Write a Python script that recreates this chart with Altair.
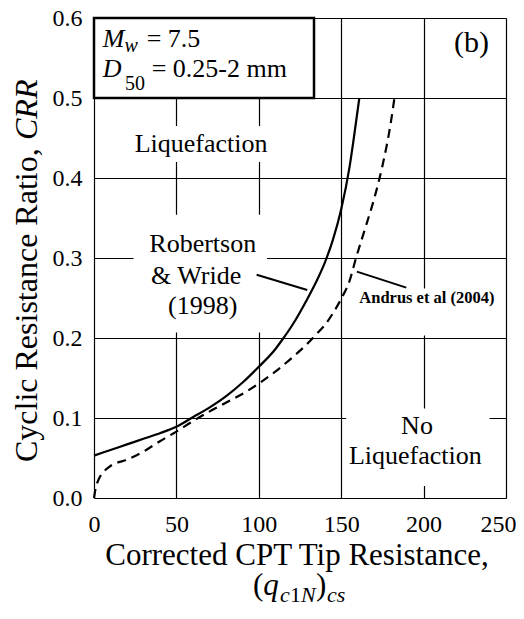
import altair as alt
import pandas as pd

SERIF = "Liberation Serif"

# Robertson & Wride (1998) curve (solid)
rw_q = [0, 10, 20, 30, 40, 50, 60, 70, 80, 90, 100, 110, 115, 120, 130, 135, 140, 145, 150, 155, 158, 161]
rw_crr = [0.053, 0.060, 0.067, 0.074, 0.081, 0.089, 0.101, 0.113, 0.127, 0.144, 0.164, 0.186, 0.200,
          0.215, 0.251, 0.271, 0.294, 0.323, 0.361, 0.413, 0.455, 0.500]

# Andrus et al (2004) curve (dashed)
an_q = [0, 1, 3, 6, 10, 20, 30, 40, 50, 60, 70, 80, 90, 100, 110, 120, 130, 135, 140, 145, 150, 155,
        159, 165, 170, 175, 180, 182.3]
an_crr = [0.0, 0.012, 0.024, 0.033, 0.040, 0.048, 0.058, 0.071, 0.083, 0.096, 0.108, 0.119, 0.130,
          0.143, 0.158, 0.175, 0.194, 0.205, 0.216, 0.231, 0.249, 0.271, 0.300, 0.340, 0.374, 0.415,
          0.468, 0.500]

x_ticks = [0, 50, 100, 150, 200, 250]
y_ticks = [0.0, 0.1, 0.2, 0.3, 0.4, 0.5, 0.6]

# annotation texts (data coordinates)
ann_text = ["Liquefaction", "Robertson", "& Wride", "(1998)", "No", "Liquefaction", "(b)"]
ann_q = [65, 66, 62, 66, 196, 195, 229]
ann_crr = [0.443, 0.317, 0.277, 0.240, 0.0895, 0.052, 0.569]
ann_size = [26, 26, 26, 26, 26, 26, 30]

andrus_label = ["Andrus et al (2004)"]
andrus_q = [202]
andrus_crr = [0.250]

# white masks behind labels (data coordinates)
mask_q1 = [22, 24, 153, 160]
mask_q2 = [107, 105, 240, 248]
mask_c1 = [0.42, 0.207, 0.015, 0.203]
mask_c2 = [0.465, 0.354, 0.112, 0.262]

# leader lines
lead_q1 = [98.7, 159.5]
lead_q2 = [129.4, 189.5]
lead_c1 = [0.279, 0.283]
lead_c2 = [0.260, 0.263]

# parameter box
box_q = [0]
box_q2 = [133.5]
box_c = [0.5]
box_c2 = [0.6]

xs = alt.Scale(domain=[0, 250], nice=False, zero=False)
ys = alt.Scale(domain=[0, 0.6], nice=False, zero=False)

rw = pd.DataFrame({"q": rw_q, "crr": rw_crr})
an = pd.DataFrame({"q": an_q, "crr": an_crr})

xax = alt.Axis(values=x_ticks, title=None, grid=True, ticks=False, tickSize=0, domain=False,
               labelFont=SERIF, labelFontSize=24, labelColor="black", labelPadding=14,
               labelFlush=False, labelOverlap=False, gridColor="black", gridWidth=1.2,
               labelAlign={"condition": {"test": "datum.value == 250", "value": "right"}, "value": "center"},
               labelOffset={"condition": {"test": "datum.value == 250", "value": 10}, "value": 0})
yax = alt.Axis(values=y_ticks, title=None, grid=True, ticks=False, tickSize=0, domain=False, format=".1f",
               labelFont=SERIF, labelFontSize=24, labelColor="black", labelPadding=12,
               labelFlush=False, labelOverlap=False, gridColor="black", gridWidth=1.2)

base_solid = alt.Chart(rw).mark_line(color="black", strokeWidth=2.2, interpolate="monotone").encode(
    x=alt.X("q:Q", scale=xs, axis=xax),
    y=alt.Y("crr:Q", scale=ys, axis=yax),
)
dashed = alt.Chart(an).mark_line(color="black", strokeWidth=2.2, strokeDash=[9, 6],
                                 interpolate="monotone").encode(
    x=alt.X("q:Q", scale=xs), y=alt.Y("crr:Q", scale=ys)
)

masks = alt.Chart(pd.DataFrame({"a": mask_q1, "b": mask_q2, "c": mask_c1, "d": mask_c2})).mark_rect(
    color="white").encode(
    x=alt.X("a:Q", scale=xs), x2="b:Q", y=alt.Y("c:Q", scale=ys), y2="d:Q"
)

leaders = alt.Chart(pd.DataFrame({"a": lead_q1, "b": lead_q2, "c": lead_c1, "d": lead_c2})).mark_rule(
    color="black", strokeWidth=2).encode(
    x=alt.X("a:Q", scale=xs), x2="b:Q", y=alt.Y("c:Q", scale=ys), y2="d:Q"
)

ann = alt.Chart(pd.DataFrame({"t": ann_text, "q": ann_q, "c": ann_crr, "s": ann_size})).mark_text(
    font=SERIF, color="black", align="center", baseline="middle").encode(
    x=alt.X("q:Q", scale=xs), y=alt.Y("c:Q", scale=ys), text="t:N",
    size=alt.Size("s:Q", scale=None, legend=None)
)

andrus = alt.Chart(pd.DataFrame({"t": andrus_label, "q": andrus_q, "c": andrus_crr})).mark_text(
    font=SERIF, fontSize=16.5, fontWeight="bold",
    color="black", align="center", baseline="middle").encode(
    x=alt.X("q:Q", scale=xs), y=alt.Y("c:Q", scale=ys), text="t:N"
)

box = alt.Chart(pd.DataFrame({"a": box_q, "b": box_q2, "c": box_c, "d": box_c2})).mark_rect(
    fill="white", stroke="black", strokeWidth=2.5).encode(
    x=alt.X("a:Q", scale=xs), x2="b:Q", y=alt.Y("c:Q", scale=ys), y2="d:Q"
)


def piece(text, x, y, size, italic=False, align="left", angle=0, baseline="alphabetic"):
    kw = dict(font=SERIF, fontSize=size, color="black", align=align, baseline=baseline)
    if italic:
        kw["fontStyle"] = "italic"
    if angle:
        kw["angle"] = angle
    return alt.Chart(pd.DataFrame({"t": [text]})).mark_text(**kw).encode(
        x=alt.value(x), y=alt.value(y), text="t:N")


texts = [
    # parameter box
    piece("M", 8.7, 28.7, 26, italic=True),
    piece("w", 30.5, 33.7, 20, italic=True),
    piece("= 7.5", 52.7, 28.7, 26),
    piece("D", 8.7, 58.7, 26, italic=True),
    piece("50", 31, 72, 20),
    piece("= 0.25-2 mm", 57.7, 58.7, 26),
    # y title
    piece("Cyclic Resistance Ratio,", -57, 444, 32, angle=270),
    piece("CRR", -57, 122, 32, italic=True, angle=270),
    # x title
    piece("Corrected CPT Tip Resistance,", 203, 547, 31, align="center"),
    piece("(", 159, 577, 31),
    piece("q", 169.3, 577, 31, italic=True),
    piece("c", 186, 584, 22, italic=True),
    piece("1", 196, 584, 22),
    piece("N", 207, 584, 22, italic=True),
    piece(")", 222, 577, 31),
    piece("cs", 233, 584, 22, italic=True),
]

chart = alt.layer(base_solid, masks, dashed, leaders, ann, andrus, box, *texts).properties(
    width=412, height=480,
    autosize=alt.AutoSizeParams(type="none"),
    padding={"left": 86, "top": 10, "right": 10, "bottom": 106},
).configure_view(stroke="black", strokeWidth=2.6).configure(background="white")

chart.save("out.html", embed_options={"renderer": "svg", "actions": False})
